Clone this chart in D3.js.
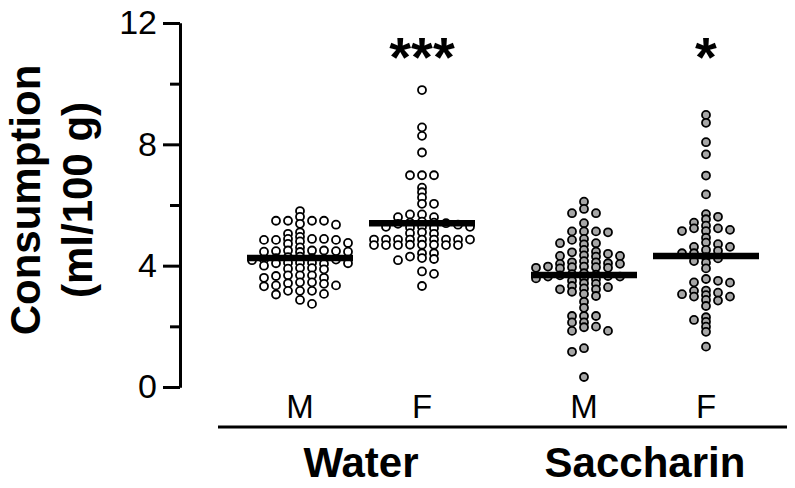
<!DOCTYPE html>
<html>
<head>
<meta charset="utf-8">
<script src="https://cdn.jsdelivr.net/npm/d3@7"></script>
<style>
  html, body { margin: 0; padding: 0; background: #fff; }
  svg { display: block; font-family: "Liberation Sans", Arial, sans-serif; }
</style>
</head>
<body>
<svg id="chart" width="795" height="488"></svg>
<script>
// ---------- data ----------
const solutions = ["Water", "Saccharin"];
const sexes = ["M", "F"];
const yMajorTicks = [0, 4, 8, 12];
const yMinorTicks = [2, 6, 10];

const waterM = [5.80, 5.61, 5.48, 5.48, 5.48, 5.48, 5.35, 5.38, 5.10, 5.05, 4.95,
  4.88, 4.88, 4.88, 4.85, 4.85, 4.85, 4.80, 4.75, 4.72,
  4.60, 4.50, 4.50, 4.50, 4.48, 4.48, 4.46, 4.46, 4.45,
  4.30, 4.28, 4.25, 4.25, 4.22, 4.20, 4.20, 4.18,
  4.10, 4.10, 4.10, 4.08, 4.08, 4.06, 4.00,
  3.92, 3.92, 3.90, 3.88,
  3.68, 3.68, 3.68, 3.66, 3.60, 3.60,
  3.45, 3.42, 3.35, 3.32, 3.35, 3.40, 3.45,
  3.17, 3.17, 3.05, 3.07, 3.17,
  2.87, 2.74];

const waterF = [9.79, 8.56, 8.28, 7.73, 6.98, 6.98, 6.98, 6.57, 6.42, 6.25, 6.04, 6.04,
  5.69, 5.69, 5.60, 5.60,
  5.45, 5.42, 5.40, 5.38, 5.42, 5.35,
  5.28, 5.28, 5.26, 5.24, 5.28,
  5.07, 5.05, 5.10,
  4.86, 4.86, 4.86, 4.86, 4.86, 4.86, 4.86, 4.86, 4.86,
  4.69, 4.68, 4.68, 4.69, 4.69, 4.68, 4.68, 4.68,
  4.41, 4.41,
  4.30, 4.22, 4.25, 4.18,
  3.81, 3.73, 3.33];

const saccM = [6.11, 5.87, 5.73, 5.73, 5.40,
  5.13, 5.13, 5.10, 5.13,
  4.88, 4.85, 4.74, 4.70, 4.74,
  4.52, 4.46, 4.44, 4.39,
  4.32, 4.30, 4.34, 4.32,
  4.08, 4.06, 4.11, 4.06, 4.15, 4.11, 3.95, 3.93, 3.93, 3.97, 3.97, 3.95, 3.91,
  3.75, 3.72, 3.70, 3.68, 3.66, 3.64,
  3.50, 3.64, 3.55, 3.58, 3.58,
  3.40, 3.33, 3.42,
  3.22, 3.07, 3.22, 3.29, 3.14, 3.25,
  3.00, 2.81, 2.61, 2.34, 2.34, 2.34, 2.13, 2.13,
  1.97, 1.85, 1.85, 1.99,
  1.28, 1.16, 0.33];

const saccF = [8.97, 8.71, 8.07, 7.67, 6.97, 6.35,
  5.70, 5.61, 5.42, 5.53,
  5.23, 5.18, 5.14, 5.14, 5.23, 5.32,
  4.92, 4.71, 4.62, 4.49, 4.62, 4.76,
  4.52, 4.41, 4.41,
  4.28, 4.10, 4.15, 4.24,
  3.91,
  3.50, 3.44, 3.56, 3.45,
  3.11, 3.03, 2.98, 2.85, 3.17, 3.18, 2.87, 2.98, 3.06,
  2.67,
  2.21, 2.30, 1.99, 2.15,
  1.82, 1.33];

const groupMeans = [4.25, 5.40, 3.69, 4.32];   // Water M, Water F, Saccharin M, Saccharin F
const significance = ["", "***", "", "*"];

// ---------- chart ----------
const svg = d3.select("#chart");
const font = '"Liberation Sans", Arial, sans-serif';

const y = d3.scaleLinear().domain([0, 12]).range([387, 23]);

const xOuter = d3.scaleBand().domain(solutions).range([239, 767])
  .paddingInner(40 / 284).paddingOuter(0);
const xInner = d3.scaleBand().domain(sexes).range([0, xOuter.bandwidth()]).padding(0);
const cx = (sol, sex) => xOuter(sol) + xInner(sex) + xInner.bandwidth() / 2;

const groups = [
  { sol: "Water", sex: "M", values: waterM, fill: "#ffffff" },
  { sol: "Water", sex: "F", values: waterF, fill: "#ffffff" },
  { sol: "Saccharin", sex: "M", values: saccM, fill: "#a6a6a6" },
  { sol: "Saccharin", sex: "F", values: saccF, fill: "#a6a6a6" }
];
groups.forEach((g, i) => { g.mean = groupMeans[i]; g.sig = significance[i]; g.cx = cx(g.sol, g.sex); });

// row-style scatter (rectangular collision, like a column scatter plot)
function swarm(values, W, H) {
  const pts = values.map(v => ({ v, py: y(v) })).sort((a, b) => a.py - b.py);
  const placed = [];
  let flip = 1;
  pts.forEach(p => {
    const iv = [];
    placed.forEach(q => {
      if (Math.abs(q.py - p.py) < H) iv.push([q.dx - W, q.dx + W]);
    });
    const cands = [0];
    iv.forEach(([a, b]) => { cands.push(a, b); });
    const ok = cands.filter(c => iv.every(([a, b]) => c <= a + 1e-6 || c >= b - 1e-6));
    let best = null;
    ok.forEach(c => {
      if (best === null || Math.abs(c) < Math.abs(best) - 1e-6) best = c;
      else if (Math.abs(Math.abs(c) - Math.abs(best)) <= 1e-6 && c * flip > 0) best = c;
    });
    if (best !== 0) flip = -flip;
    p.dx = best;
    placed.push(p);
  });
  return placed;
}

// y axis
const axisMajor = d3.axisLeft(y).tickValues(yMajorTicks).tickSize(17).tickSizeOuter(0).tickPadding(6);
const axisMinor = d3.axisLeft(y).tickValues(yMinorTicks).tickSize(10).tickSizeOuter(0).tickFormat("");
const gMinor = svg.append("g").attr("transform", "translate(180,0)").call(axisMinor);
const gMajor = svg.append("g").attr("transform", "translate(180,0)").call(axisMajor);
[gMinor, gMajor].forEach(g => {
  g.select(".domain").attr("stroke", "#000").attr("stroke-width", 3);
  g.selectAll(".tick line").attr("stroke", "#000").attr("stroke-width", 3);
});
gMajor.selectAll(".tick text").attr("font-family", font).attr("font-size", 34).attr("fill", "#000");

// y label
const ylab = svg.append("g").attr("transform", "rotate(-90)")
  .attr("font-family", font).attr("font-weight", "bold").attr("font-size", 42)
  .attr("text-anchor", "middle").attr("fill", "#000");
ylab.append("text").attr("x", -200).attr("y", 40).text("Consumption");
ylab.append("text").attr("x", -200).attr("y", 92).text("(ml/100 g)");

// points
groups.forEach(g => {
  const pts = swarm(g.values, 12, 4.5);
  svg.append("g").selectAll("circle").data(pts).join("circle")
    .attr("cx", d => g.cx + d.dx)
    .attr("cy", d => d.py)
    .attr("r", 4)
    .attr("fill", g.fill)
    .attr("stroke", "#000")
    .attr("stroke-width", 1.8);
});

// mean lines
svg.append("g").selectAll("line").data(groups).join("line")
  .attr("x1", d => d.cx - 53).attr("x2", d => d.cx + 53)
  .attr("y1", d => y(d.mean)).attr("y2", d => y(d.mean))
  .attr("stroke", "#000").attr("stroke-width", 6.5);

// significance stars
svg.append("g").selectAll("text").data(groups.filter(d => d.sig)).join("text")
  .attr("x", d => d.cx).attr("y", 76)
  .attr("text-anchor", "middle")
  .attr("font-family", font).attr("font-weight", "bold").attr("font-size", 56)
  .text(d => d.sig);

// sex labels
svg.append("g").selectAll("text").data(groups).join("text")
  .attr("x", d => d.cx).attr("y", 418)
  .attr("text-anchor", "middle")
  .attr("font-family", font).attr("font-size", 33)
  .text(d => d.sex);

// separator line
svg.append("line").attr("x1", 218).attr("x2", 787).attr("y1", 427).attr("y2", 427)
  .attr("stroke", "#000").attr("stroke-width", 3);

// solution labels
svg.append("g").selectAll("text").data(solutions).join("text")
  .attr("x", d => xOuter(d) + xOuter.bandwidth() / 2).attr("y", 477)
  .attr("text-anchor", "middle")
  .attr("font-family", font).attr("font-weight", "bold").attr("font-size", 42)
  .text(d => d);
</script>
</body>
</html>
